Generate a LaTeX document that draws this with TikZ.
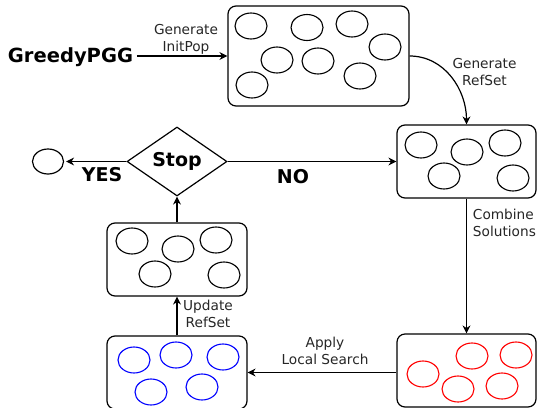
\documentclass[tikz,border=0pt]{standalone}
\usepackage{fontspec}
\setmainfont{DejaVu Sans}
\usetikzlibrary{shapes.geometric,arrows.meta}
\begin{document}
\begin{tikzpicture}[x=1pt,y=1pt,line width=1.2pt,
  pop/.style={draw,rounded corners=8pt,minimum width=140pt,minimum height=73pt,inner sep=0pt},
  arw/.style={-{Stealth[length=8pt,width=8pt]}},
  lbl/.style={font=\fontsize{13.7}{17}\selectfont,align=center,text=black!85},
  big/.style={font=\fontsize{19}{22}\selectfont\bfseries}]
\useasboundingbox (0,0) rectangle (537,-407);
\node[pop,minimum width=181pt,minimum height=100pt] (initpop) at (318.5,-56) {};
\node[pop,minimum width=139pt] (refset) at (466.5,-161.5) {};
\node[pop] (newref) at (177,-259.5) {};
\node[pop] (improved) at (177,-372.5) {};
\node[pop,minimum width=139pt] (combined) at (466.5,-370.5) {};
\node[draw,diamond,aspect=1.45,minimum width=100pt,minimum height=69pt,inner sep=0pt,big] (stop) at (177,-161.5) {Stop};
\node[draw,ellipse,minimum width=31pt,minimum height=25pt] (done) at (48,-161.5) {};
\node[big,font=\fontsize{19.5}{22}\selectfont\bfseries,anchor=base] (greedy) at (70.5,-62) {GreedyPGG};
\draw[line width=1.1pt] (251,-26) ellipse (16 and 13) (307,-27.5) ellipse (16 and 13) (352,-24) ellipse (16 and 13)
      (385,-47) ellipse (16 and 13) (277,-60) ellipse (16 and 13) (318,-61) ellipse (16 and 13)
      (360,-76) ellipse (16 and 13) (252,-85) ellipse (16 and 13);
\draw[line width=1.1pt] (421,-145) ellipse (16 and 13) (467,-152) ellipse (16 and 13) (505,-143) ellipse (16 and 13)
      (444,-176) ellipse (16 and 13) (513,-178) ellipse (16 and 13);
\draw[line width=1.1pt] (132,-241) ellipse (16 and 13) (178,-249) ellipse (16 and 13) (216,-240) ellipse (16 and 13)
      (155,-274) ellipse (16 and 13) (224,-275) ellipse (16 and 13);
\draw[blue,line width=1.1pt] (134,-360) ellipse (16 and 13) (176,-355) ellipse (16 and 13) (223,-357) ellipse (16 and 13)
      (151,-392) ellipse (16 and 13) (202,-387) ellipse (16 and 13);
\draw[red,line width=1.1pt] (423,-374) ellipse (16 and 13) (472,-356) ellipse (16 and 13) (516,-355) ellipse (16 and 13)
      (458,-389) ellipse (16 and 13) (502,-386) ellipse (16 and 13);
\draw[arw] (greedy.east |- initpop.west) -- (initpop.west);
\node[lbl] (genpop) at (186,-39) {Generate\\InitPop};
\draw[arw] (initpop.east) to[out=0,in=90] (refset.north);
\node[lbl] (genref) at (484.5,-72) {Generate\\RefSet};
\draw[arw] (refset.south) -- (combined.north);
\node[lbl,align=left,anchor=west] (combine) at (469,-223) {Combine\\Solutions};
\draw[arw] (combined.west |- improved.east) -- (improved.east);
\node[lbl] (apply) at (325,-351) {Apply\\Local Search};
\draw[arw] (improved.north) -- (newref.south);
\node[lbl] (update) at (208,-314) {Update\\RefSet};
\draw[arw] (newref.north) -- (stop.south);
\draw[arw] (stop.east) -- (refset.west);
\node[big] (no) at (293,-177) {NO};
\draw[arw,shorten >=2pt] (stop.west) -- (done.east);
\node[big] (yes) at (102,-174.5) {YES};
\end{tikzpicture}
\end{document}
